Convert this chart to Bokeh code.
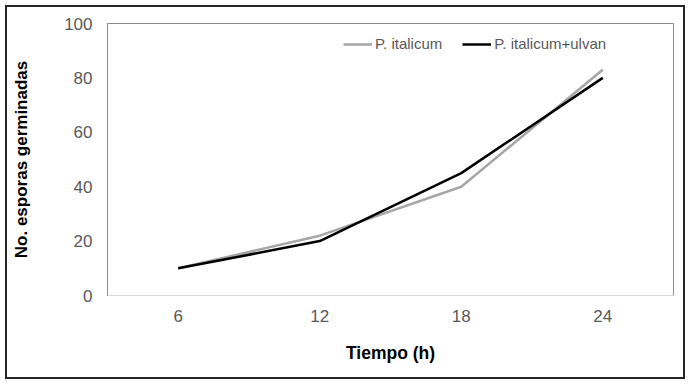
from bokeh.plotting import figure
from bokeh.models import Legend, LegendItem, FactorRange, Range1d, FixedTicker
from bokeh.embed import file_html
from bokeh.resources import INLINE

hours = ["6", "12", "18", "24"]
p_italicum = [10, 22, 40, 83]
p_italicum_ulvan = [10, 20, 45, 80]
y_ticks = [0, 20, 40, 60, 80, 100]
series_names = ["P. italicum", "P. italicum+ulvan"]
x_title = "Tiempo (h)"
y_title = "No. esporas germinadas"

FONT = "Liberation Sans"
TICK_COLOR = "#595959"

p = figure(width=680, height=374, x_range=FactorRange(*hours), y_range=Range1d(0, 100),
           output_backend="svg", toolbar_location=None,
           min_border_left=100, min_border_right=14, min_border_top=16, min_border_bottom=86)
p.styles = {"border": "2px solid #262626", "margin-left": "5px", "margin-top": "5px"}
p.outline_line_color = "#8c8c8c"
p.outline_line_width = 1
p.xgrid.grid_line_color = None
p.ygrid.grid_line_color = None
p.background_fill_color = "white"
p.border_fill_color = "white"

# x axis
xa = p.xaxis[0]
xa.axis_line_color = "#d9d9d9"
xa.major_tick_line_color = None
xa.minor_tick_line_color = None
xa.major_tick_out = 0
xa.major_label_standoff = 14
xa.major_label_text_font = FONT
xa.major_label_text_font_size = "17px"
xa.major_label_text_color = TICK_COLOR
xa.axis_label = x_title
xa.axis_label_text_font = FONT
xa.axis_label_text_font_size = "17.5px"
xa.axis_label_text_font_style = "bold"
xa.axis_label_text_color = "black"
xa.axis_label_standoff = 18

# y axis
ya = p.yaxis[0]
ya.ticker = FixedTicker(ticks=y_ticks)
ya.axis_line_color = "#8c8c8c"
ya.major_tick_line_color = None
ya.minor_tick_line_color = None
ya.major_tick_out = 0
ya.major_label_standoff = 15
ya.major_label_text_font = FONT
ya.major_label_text_font_size = "17px"
ya.major_label_text_color = TICK_COLOR
ya.axis_label = y_title
ya.axis_label_text_font = FONT
ya.axis_label_text_font_size = "17px"
ya.axis_label_text_font_style = "bold"
ya.axis_label_text_color = "black"
ya.axis_label_standoff = 30

r1 = p.line(hours, p_italicum, line_color="#a6a6a6", line_width=2.5)
r2 = p.line(hours, p_italicum_ulvan, line_color="black", line_width=2.5)

legend = Legend(items=[LegendItem(label=series_names[0], renderers=[r1]),
                       LegendItem(label=series_names[1], renderers=[r2])],
                orientation="horizontal", location=(236, 243),
                background_fill_alpha=0, border_line_color=None,
                padding=0, margin=0, spacing=20, glyph_width=29, glyph_height=16,
                label_height=16, label_standoff=3,
                label_text_font=FONT, label_text_font_size="15px",
                label_text_color=TICK_COLOR)
p.add_layout(legend, "center")

open("out.html", "w").write(file_html(p, INLINE))
